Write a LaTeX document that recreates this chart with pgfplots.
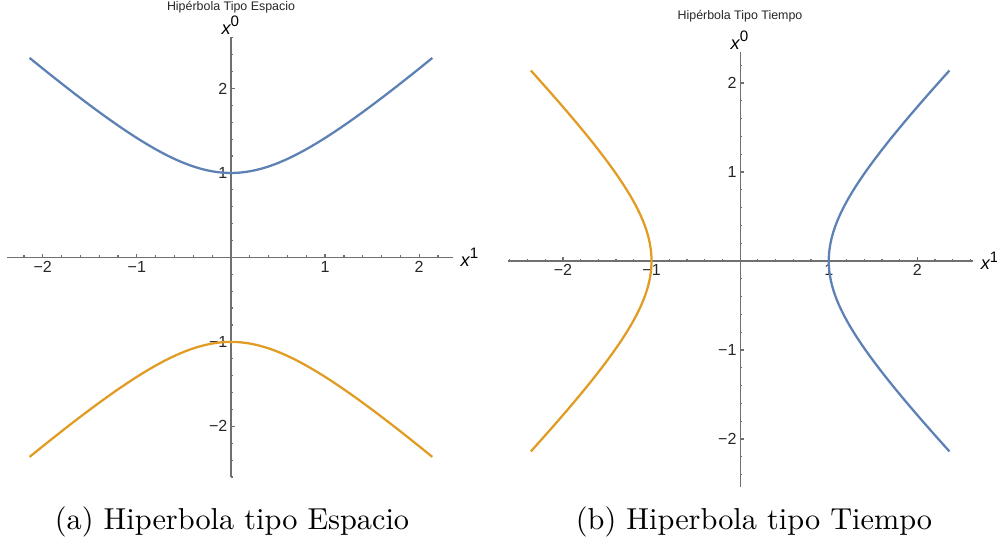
\documentclass[border=0pt]{standalone}
\usepackage{fontspec}
\usepackage{pgfplots}
\usepackage{pgfplotstable}
\pgfplotsset{compat=1.18}
\newfontfamily\mma{Liberation Sans}
\definecolor{mblue}{HTML}{5E81B5}
\definecolor{morange}{HTML}{E19C24}
\definecolor{axgray}{HTML}{707070}

% t, sqrt(1+t^2), -sqrt(1+t^2)
\pgfplotstableread{
t s ns
-2.14 2.362118 -2.362118
-2.1 2.325941 -2.325941
-2.0 2.236068 -2.236068
-1.9 2.147091 -2.147091
-1.8 2.059126 -2.059126
-1.7 1.972308 -1.972308
-1.6 1.886796 -1.886796
-1.5 1.802776 -1.802776
-1.4 1.720465 -1.720465
-1.3 1.640122 -1.640122
-1.2 1.562050 -1.562050
-1.1 1.486607 -1.486607
-1.0 1.414214 -1.414214
-0.9 1.345362 -1.345362
-0.8 1.280625 -1.280625
-0.7 1.220656 -1.220656
-0.6 1.166190 -1.166190
-0.5 1.118034 -1.118034
-0.4 1.077033 -1.077033
-0.3 1.044031 -1.044031
-0.2 1.019804 -1.019804
-0.1 1.004988 -1.004988
0.0 1.000000 -1.000000
0.1 1.004988 -1.004988
0.2 1.019804 -1.019804
0.3 1.044031 -1.044031
0.4 1.077033 -1.077033
0.5 1.118034 -1.118034
0.6 1.166190 -1.166190
0.7 1.220656 -1.220656
0.8 1.280625 -1.280625
0.9 1.345362 -1.345362
1.0 1.414214 -1.414214
1.1 1.486607 -1.486607
1.2 1.562050 -1.562050
1.3 1.640122 -1.640122
1.4 1.720465 -1.720465
1.5 1.802776 -1.802776
1.6 1.886796 -1.886796
1.7 1.972308 -1.972308
1.8 2.059126 -2.059126
1.9 2.147091 -2.147091
2.0 2.236068 -2.236068
2.1 2.325941 -2.325941
2.14 2.362118 -2.362118
}\hyp

\pgfplotsset{
  mma/.style={
    scale only axis,
    axis lines=middle,
    axis line style={-, axgray, line width=0.35pt},
    tick align=inside,
    major tick length=1.2pt,
    minor tick length=0.75pt,
    every tick/.style={axgray, line width=0.4pt},
    tick label style={font=\mma\fontsize{5.3}{6}\selectfont, text=black!85, inner sep=1pt},
    xtick={-2,-1,0,1,2}, ytick={-2,-1,0,1,2},
    xticklabels={−2,−1,,1,2}, yticklabels={−2,−1,,1,2},
    minor xtick={-2.6,-2.4,-2.2,-1.8,-1.6,-1.4,-1.2,-0.8,-0.6,-0.4,-0.2,0.2,0.4,0.6,0.8,1.2,1.4,1.6,1.8,2.2,2.4,2.6},
    minor ytick={-2.6,-2.4,-2.2,-1.8,-1.6,-1.4,-1.2,-0.8,-0.6,-0.4,-0.2,0.2,0.4,0.6,0.8,1.2,1.4,1.6,1.8,2.2,2.4,2.6},
    xlabel={\mma\fontsize{6}{7}\selectfont\itshape x\textsuperscript{\upshape 1}},
    ylabel={\mma\fontsize{6}{7}\selectfont\itshape x\textsuperscript{\upshape 0}},
    x label style={at={(current axis.right of origin)}, anchor=west, xshift=2.3pt, inner sep=0pt},
    y label style={at={(current axis.above origin)}, anchor=south, inner sep=0.6pt},
    clip=false,
  },
}

\begin{document}
\begin{tikzpicture}[x=0.33pt, y=0.33pt]
  \path[use as bounding box] (0,0) rectangle (997,545);

  % (a) space-like hyperbola
  \begin{axis}[mma, at={(2.31pt,22.44pt)}, anchor=south west,
      width=147.2pt, height=145.2pt,
      xmin=-2.38, xmax=2.36, ymin=-2.6, ymax=2.61]
    \addplot[mblue, line width=0.75pt, smooth] table[x=t, y=s] {\hyp};
    \addplot[morange, line width=0.75pt, smooth] table[x=t, y=ns] {\hyp};
  \end{axis}

  % (b) time-like hyperbola
  \begin{axis}[mma, at={(167.64pt,19.14pt)}, anchor=south west,
      width=153.5pt, height=143.6pt,
      xmin=-2.62, xmax=2.63, ymin=-2.54, ymax=2.35]
    \addplot[mblue, line width=0.75pt, smooth] table[x=s, y=t] {\hyp};
    \addplot[morange, line width=0.75pt, smooth] table[x=ns, y=t] {\hyp};
  \end{axis}

  \node[font=\mma\fontsize{4.1}{5}\selectfont, text=black!85] at (231,538) {Hipérbola Tipo Espacio};
  \node[font=\mma\fontsize{4.1}{5}\selectfont, text=black!85] at (740,529) {Hipérbola Tipo Tiempo};

  \node at (232,23) {(a) Hiperbola tipo Espacio};
  \node at (754,23) {(b) Hiperbola tipo Tiempo};
\end{tikzpicture}
\end{document}
